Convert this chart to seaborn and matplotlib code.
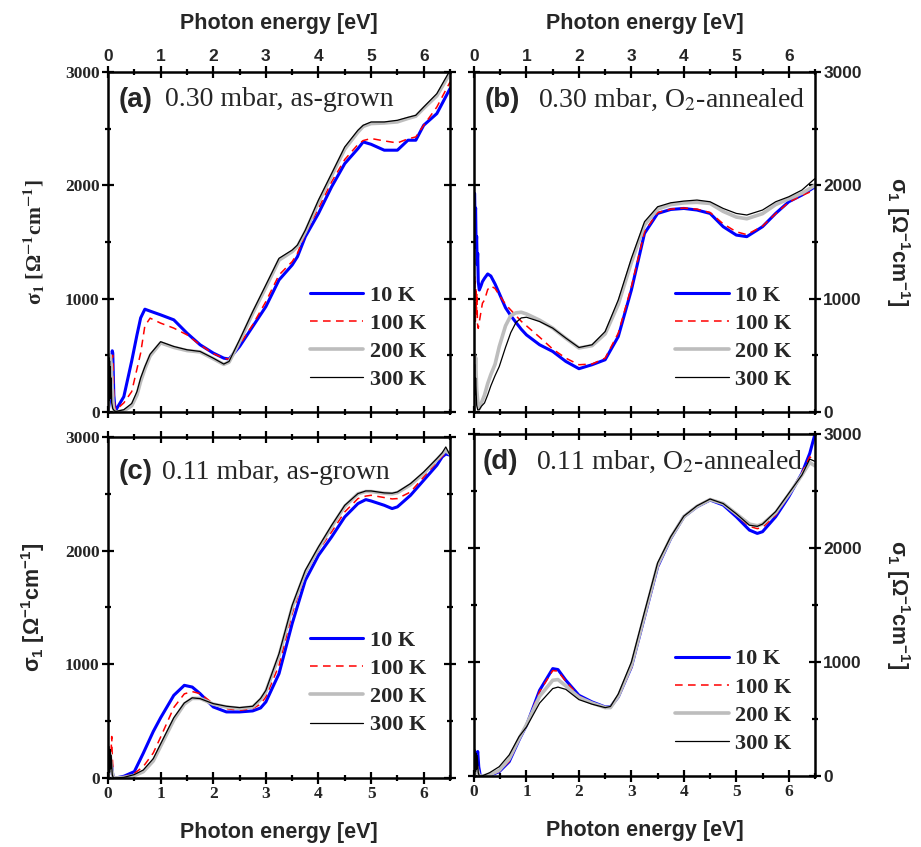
import matplotlib
matplotlib.use("Agg")
import matplotlib.pyplot as plt
import seaborn as sns
from matplotlib.font_manager import FontProperties

# -------------------------------
# Data
# -------------------------------
temps = ["10 K", "100 K", "200 K", "300 K"]
x_ticks = [0, 1, 2, 3, 4, 5, 6]
x_minor = [0.5, 1.5, 2.5, 3.5, 4.5, 5.5, 6.5]
y_ticks = [0, 1000, 2000, 3000]
y_minor = [500, 1500, 2500]

titles = ["0.30 mbar, as-grown", "0.30 mbar, O$_2$-annealed",
          "0.11 mbar, as-grown", "0.11 mbar, O$_2$-annealed"]
tags = ["(a)", "(b)", "(c)", "(d)"]

# panel (a)
e_a = [0.15, 0.3, 0.45, 0.55, 0.62, 0.7, 0.8, 1.0, 1.25, 1.5, 1.75, 2.0, 2.2, 2.3, 2.5,
       2.75, 3.0, 3.25, 3.5, 3.6, 3.75, 4.0, 4.25, 4.5, 4.75, 4.85, 5.0, 5.25, 5.5, 5.7,
       5.85, 6.0, 6.25, 6.5]
a_10k = [18, 135, 450, 680, 830, 907, 890, 857, 813, 696, 593, 520, 475, 467, 578, 754,
         930, 1165, 1297, 1370, 1547, 1752, 1987, 2192, 2324, 2383, 2362, 2310, 2310,
         2398, 2398, 2530, 2633, 2853]
a_100k = [18, 80, 180, 380, 520, 760, 828, 784, 740, 681, 593, 515, 475, 465, 593, 770,
          974, 1209, 1327, 1400, 1576, 1796, 2031, 2228, 2360, 2395, 2413, 2392, 2374,
          2410, 2427, 2530, 2691, 2911]
a_200k = [0, 10, 55, 150, 270, 380, 495, 610, 570, 542, 530, 470, 420, 440, 620, 870,
          1100, 1340, 1415, 1460, 1590, 1850, 2085, 2320, 2470, 2520, 2545, 2550, 2560,
          2590, 2610, 2680, 2790, 2990]
a_300k = [5, 20, 75, 180, 300, 400, 510, 620, 578, 549, 534, 475, 423, 446, 637, 886,
          1121, 1356, 1429, 1473, 1605, 1870, 2104, 2339, 2486, 2530, 2559, 2559, 2574,
          2600, 2618, 2691, 2809, 3014]
a_lo_e = [[0.0, 0.03, 0.06, 0.08, 0.09, 0.11, 0.13],
          [0.0, 0.04, 0.07, 0.09, 0.11, 0.13],
          [0.0, 0.02, 0.04, 0.06, 0.08, 0.1, 0.12],
          [0.0, 0.015, 0.02, 0.03, 0.035, 0.045, 0.05, 0.06, 0.07, 0.09, 0.12]]
a_lo_s = [[0, 100, 420, 540, 520, 150, 40],
          [0, 120, 480, 500, 150, 40],
          [0, 350, 500, 420, 200, 40, 10],
          [0, 480, 100, 450, 150, 400, 120, 300, 80, 30, 10]]

# panel (b)
e_b = [0.2, 0.26, 0.32, 0.4, 0.48, 0.6, 0.7, 0.8, 0.9, 1.0, 1.25, 1.5, 1.75, 2.0, 2.25,
       2.5, 2.75, 3.0, 3.25, 3.5, 3.75, 4.0, 4.25, 4.5, 4.75, 5.0, 5.2, 5.5, 5.75, 6.0,
       6.25, 6.5]
b_10k = [1180, 1218, 1200, 1130, 1047, 920, 850, 790, 730, 680, 593, 534, 446, 382, 417,
         461, 666, 1077, 1576, 1752, 1787, 1796, 1782, 1752, 1635, 1561, 1547, 1635,
         1752, 1855, 1914, 1987]
b_100k = [988, 1080, 1112, 1090, 1032, 950, 900, 850, 800, 760, 660, 555, 475, 417, 423,
          475, 696, 1106, 1591, 1760, 1790, 1800, 1790, 1760, 1660, 1590, 1565, 1640,
          1750, 1850, 1910, 1960]
b_200k = [150, 250, 330, 420, 576, 760, 850, 875, 880, 865, 810, 740, 650, 565, 585, 690,
          950, 1320, 1650, 1790, 1830, 1845, 1850, 1840, 1770, 1720, 1705, 1750, 1830,
          1880, 1930, 2000]
b_300k = [80, 150, 230, 320, 400, 570, 700, 790, 830, 836, 798, 740, 652, 569, 593, 710,
          989, 1356, 1679, 1811, 1846, 1861, 1870, 1855, 1796, 1752, 1738, 1782, 1855,
          1899, 1958, 2060]
b_lo_e = [[0.005, 0.01, 0.02, 0.03, 0.04, 0.05, 0.06, 0.07, 0.08, 0.1, 0.13, 0.16],
          [0.005, 0.015, 0.025, 0.035, 0.045, 0.055, 0.065, 0.08, 0.12, 0.16],
          [0.0, 0.01, 0.02, 0.03, 0.05, 0.08, 0.1, 0.14],
          [0.0, 0.01, 0.02, 0.03, 0.05, 0.07, 0.1, 0.14]]
b_lo_s = [[1500, 1930, 1700, 1800, 1450, 1550, 1300, 1400, 1150, 1076, 1110, 1150],
          [900, 1200, 800, 1100, 850, 1050, 780, 738, 850, 960],
          [0, 500, 350, 480, 200, 50, 30, 80],
          [0, 420, 150, 300, 60, 18, 20, 50]]

# panel (c)
e_c = [0.15, 0.3, 0.5, 0.67, 0.86, 1.0, 1.25, 1.45, 1.6, 1.75, 2.0, 2.25, 2.5, 2.75,
       2.9, 3.0, 3.25, 3.5, 3.75, 4.0, 4.25, 4.5, 4.75, 4.9, 5.0, 5.25, 5.4, 5.5, 5.75,
       6.0, 6.25, 6.35, 6.42, 6.5]
c_10k = [0, 15, 56, 218, 409, 530, 727, 815, 800, 742, 625, 581, 581, 590, 616, 669,
         918, 1358, 1739, 1959, 2121, 2297, 2414, 2449, 2437, 2399, 2370, 2385, 2487,
         2619, 2751, 2824, 2850, 2840]
c_100k = [0, 10, 40, 100, 220, 360, 620, 740, 760, 742, 654, 610, 595, 610, 650, 713,
          991, 1446, 1798, 2003, 2165, 2341, 2458, 2480, 2487, 2467, 2455, 2458, 2516,
          2648, 2780, 2830, 2860, 2850]
c_200k = [0, 5, 20, 55, 150, 280, 510, 650, 700, 700, 650, 625, 612, 625, 690, 760,
          1075, 1500, 1810, 2020, 2210, 2390, 2500, 2520, 2520, 2505, 2500, 2510, 2580,
          2680, 2800, 2850, 2880, 2850]
c_300k = [0, 5, 30, 70, 170, 300, 530, 660, 705, 698, 654, 631, 619, 631, 700, 771,
          1094, 1519, 1827, 2033, 2223, 2399, 2502, 2525, 2525, 2508, 2505, 2516, 2590,
          2692, 2810, 2860, 2912, 2840]
c_lo_e = [[0.0, 0.06, 0.08, 0.1],
          [0.0, 0.05, 0.07, 0.08, 0.1, 0.12],
          [0.0, 0.04, 0.06, 0.1],
          [0.0, 0.02, 0.03, 0.04, 0.05, 0.06, 0.08, 0.1]]
c_lo_s = [[0, 150, 60, 0],
          [0, 150, 365, 200, 20, 0],
          [0, 220, 100, 0],
          [0, 276, 50, 250, 80, 200, 30, 0]]

# panel (d)
e_d = [0.15, 0.3, 0.48, 0.67, 0.86, 1.0, 1.25, 1.5, 1.6, 1.75, 2.0, 2.25, 2.5, 2.6,
       2.75, 3.0, 3.25, 3.5, 3.75, 4.0, 4.25, 4.5, 4.75, 5.0, 5.25, 5.4, 5.5, 5.75, 6.0,
       6.25, 6.4, 6.5]
d_10k = [0, 5, 38, 126, 318, 445, 752, 942, 934, 840, 708, 650, 606, 606, 694, 957, 1396,
         1835, 2084, 2274, 2362, 2421, 2377, 2274, 2157, 2128, 2143, 2274, 2450, 2655,
         2830, 3000]
d_100k = [0, 5, 40, 130, 320, 450, 740, 925, 920, 830, 700, 645, 605, 606, 690, 950,
          1390, 1830, 2090, 2280, 2370, 2430, 2385, 2290, 2190, 2170, 2180, 2290, 2460,
          2660, 2800, 2760]
d_200k = [0, 10, 50, 150, 330, 450, 700, 840, 846, 790, 690, 640, 600, 600, 700, 970,
          1410, 1850, 2090, 2275, 2365, 2425, 2390, 2300, 2210, 2195, 2210, 2310, 2470,
          2640, 2750, 2720]
d_300k = [0, 30, 82, 185, 347, 430, 640, 767, 780, 760, 670, 630, 600, 610, 720, 1000,
          1440, 1870, 2100, 2280, 2370, 2430, 2390, 2300, 2200, 2190, 2210, 2320, 2480,
          2640, 2780, 2760]
d_lo_e = [[0.0, 0.05, 0.07, 0.09, 0.12],
          [0.0, 0.06, 0.1],
          [0.0, 0.05, 0.1],
          [0.0, 0.02, 0.03, 0.04, 0.05, 0.06, 0.08, 0.1]]
d_lo_s = [[0, 120, 215, 80, 0],
          [0, 100, 0],
          [0, 80, 0],
          [0, 229, 40, 200, 60, 180, 30, 0]]

# -------------------------------
# Style
# -------------------------------
sns.set_theme(style="ticks")
plt.rcParams["font.family"] = ["Liberation Sans", "DejaVu Sans"]
plt.rcParams["mathtext.fontset"] = "custom"
plt.rcParams["mathtext.rm"] = "Liberation Sans:bold"
plt.rcParams["mathtext.it"] = "Liberation Sans:bold"
plt.rcParams["mathtext.bf"] = "Liberation Sans:bold"
plt.rcParams["axes.linewidth"] = 1.8
plt.rcParams["axes.edgecolor"] = "black"

colors = {"10 K": "#0000ff", "100 K": "#ff0000", "200 K": "#bdbdbd", "300 K": "black"}
widths = {"10 K": 2.2, "100 K": 1.1, "200 K": 2.6, "300 K": 0.9}
styles = {"10 K": "-", "100 K": (0, (5, 3.5)), "200 K": "-", "300 K": "-"}

SERIF = "Liberation Serif"
SANS = "Liberation Sans"

panels = [
    (e_a, [a_10k, a_100k, a_200k, a_300k], a_lo_e, a_lo_s),
    (e_b, [b_10k, b_100k, b_200k, b_300k], b_lo_e, b_lo_s),
    (e_c, [c_10k, c_100k, c_200k, c_300k], c_lo_e, c_lo_s),
    (e_d, [d_10k, d_100k, d_200k, d_300k], d_lo_e, d_lo_s),
]

# axes rectangles in figure fractions (left, bottom, width, height)
rects = [(0.1173, 0.5136, 0.3713, 0.4014),
         (0.5147, 0.5136, 0.3702, 0.4014),
         (0.1173, 0.0815, 0.3713, 0.4026),
         (0.5147, 0.0838, 0.3702, 0.4038)]
legend_y = [0.065, 0.065, 0.125, 0.065]
legend_x = [0.59, 0.59, 0.59, 0.59]
text_x = [(0.03, 0.167), (0.032, 0.188), (0.032, 0.158), (0.024, 0.182)]
text_y = [0.918, 0.918, 0.897, 0.918]

fig = plt.figure(figsize=(9.21, 8.47), dpi=100)

ylabel_txt = "σ$_1$ [Ω$^{-1}$cm$^{-1}$]"
ylabel_serif = r"σ$_{\mathbf{1}}$ [Ω$^{\mathbf{-1}}$cm$^{\mathbf{-1}}$]"

for i, (e, curves, lo_e, lo_s) in enumerate(panels):
    ax = fig.add_axes(rects[i])
    # drawn in temperature order, so 300 K ends up on top
    for k, t in enumerate(temps):
        x = lo_e[k] + e
        y = lo_s[k] + curves[k]
        sns.lineplot(x=x, y=y, ax=ax, color=colors[t], lw=widths[t],
                     linestyle=styles[t], sort=False, estimator=None, label=t)
    ax.legend(loc="lower left",
              bbox_to_anchor=(legend_x[i], legend_y[i]), frameon=False,
              handlelength=2.4, handletextpad=0.3, labelspacing=0.34,
              borderaxespad=0, borderpad=0,
              prop=FontProperties(family=SERIF, weight="bold", size=16))

    ax.set_xlim(0, 6.5)
    ax.set_ylim(0, 3000)

    top = i < 2
    right = i % 2 == 1
    x_font = SANS if top else SERIF
    y_font = SANS if right else SERIF

    ax.set_xticks(x_ticks, labels=[str(v) for v in x_ticks],
                  fontfamily=x_font, fontweight="bold", fontsize=12.5)
    ax.set_xticks(x_minor, minor=True)
    ax.set_yticks(y_ticks, labels=[str(v) for v in y_ticks],
                  fontfamily=y_font, fontweight="bold", fontsize=12.5)
    ax.set_yticks(y_minor, minor=True)
    ax.tick_params(which="both", top=True, bottom=True, left=True, right=True,
                   direction="inout", color="black", width=1.6,
                   labeltop=top, labelbottom=not top,
                   labelleft=not right, labelright=right)
    ax.tick_params(which="major", length=8, pad=2)
    ax.tick_params(which="minor", length=5)

    ax.set_xlabel("Photon energy [eV]", fontfamily=SANS, fontweight="bold",
                  fontsize=15.5, labelpad=14)
    if top:
        ax.xaxis.set_label_position("top")
    if i == 0:
        ax.set_ylabel(ylabel_serif, fontfamily=SERIF, fontweight="bold",
                      fontsize=15.5, math_fontfamily="stix", labelpad=13)
    else:
        ax.set_ylabel(ylabel_txt, fontfamily=SANS, fontweight="bold",
                      fontsize=15.5, labelpad=13 if not right else 36,
                      rotation=90 if not right else 270)
    if right:
        ax.yaxis.set_label_position("right")

    ax.text(text_x[i][0], text_y[i], tags[i], transform=ax.transAxes,
            fontfamily=SANS, fontweight="bold", fontsize=20, va="center")
    ax.text(text_x[i][1], text_y[i], titles[i], transform=ax.transAxes,
            fontfamily=SERIF, fontsize=20, va="center", math_fontfamily="stix")

    for s in ax.spines.values():
        s.set_linewidth(1.8)

fig.savefig("out.png", dpi=100)
